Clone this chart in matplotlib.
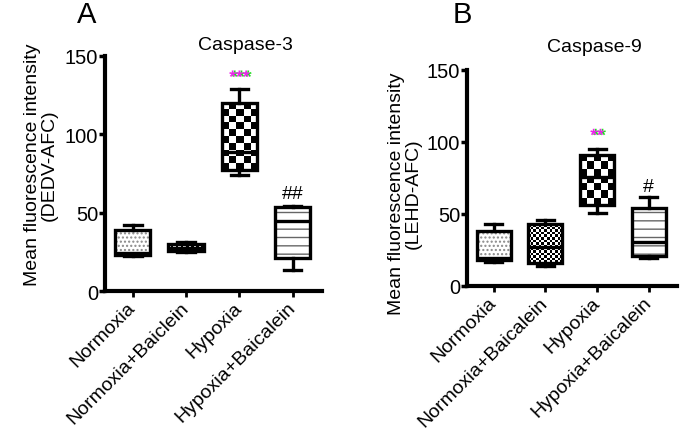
import numpy as np
import matplotlib
matplotlib.use("Agg")
import matplotlib.pyplot as plt
import matplotlib.patches as mpatches
import matplotlib.patheffects as pe

plt.rcParams['font.family'] = ['Liberation Sans', 'DejaVu Sans']
plt.rcParams['hatch.linewidth'] = 1.0

# data
labels_a = ["Normoxia", "Normoxia+Baiclein", "Hypoxia", "Hypoxia+Baicalein"]
labels_b = ["Normoxia", "Normoxia+Baicalein", "Hypoxia", "Hypoxia+Baicalein"]

casp3_whislo = [22.5, 25, 74, 13.5]
casp3_q1 = [23, 25.5, 77, 21]
casp3_med = [24, 27.5, 89, 45]
casp3_q3 = [39, 30, 120, 53.5]
casp3_whishi = [42, 31, 129, 54.5]

casp9_whislo = [17, 14, 51, 19.5]
casp9_q1 = [18, 16, 56, 21]
casp9_med = [19.5, 27, 76, 30.5]
casp9_q3 = [38, 43, 91, 54]
casp9_whishi = [43, 46, 95, 62]

# significance marks: (group, y value, text, kind)
marks_a = [(3, 136, "***", "star"), (4, 62, "##", "hash")]
marks_b = [(3, 104, "**", "star"), (4, 69, "#", "hash")]


def checker(ax, patch, cell_px):
    ext = patch.get_path().get_extents()
    (px0, py0), (px1, py1) = ax.transData.transform([[ext.x0, ext.y0], [ext.x1, ext.y1]])
    nx = max(1, int(round((px1 - px0) / cell_px)))
    ny = max(1, int(round((py1 - py0) / cell_px)))
    arr = np.add.outer(np.arange(ny), np.arange(nx)) % 2
    im = ax.imshow(arr, cmap='gray', extent=(ext.x0, ext.x1, ext.y0, ext.y1),
                   origin='lower', aspect='auto', interpolation='nearest', zorder=1.5)
    im.set_clip_path(patch)


def hatch_fill(ax, patch, hatch, color):
    p = mpatches.PathPatch(patch.get_path(), facecolor='white', edgecolor=color,
                           linewidth=0, hatch=hatch, zorder=1.5)
    ax.add_patch(p)


def panel(ax, labels, lo, q1, med, q3, hi, marks):
    stats = []
    for i in range(4):
        stats.append(dict(whislo=lo[i], q1=q1[i], med=med[i], q3=q3[i], whishi=hi[i]))
    lw = 2.4
    ax.set_xlim(0.48, 4.55)
    ax.set_ylim(0, 150)
    res = ax.bxp(stats, positions=[1, 2, 3, 4], widths=0.66, patch_artist=True,
                 showfliers=False,
                 boxprops=dict(facecolor='none', edgecolor='black', linewidth=lw),
                 medianprops=dict(color='black', linewidth=lw),
                 whiskerprops=dict(color='black', linewidth=lw),
                 capprops=dict(color='black', linewidth=lw))
    boxes = res['boxes']
    for b in boxes:
        b.set_zorder(3)
    for m in res['medians']:
        m.set_zorder(3.5)
    hatch_fill(ax, boxes[0], '....', '#888888')
    hatch_fill(ax, boxes[3], '--', '#666666')
    checker(ax, boxes[1], 2.6)
    checker(ax, boxes[2], 6.8)
    ax.set_xlim(0.48, 4.55)
    ax.set_ylim(0, 150)

    ax.spines['top'].set_visible(False)
    ax.spines['right'].set_visible(False)
    ax.spines['left'].set_linewidth(3)
    ax.spines['bottom'].set_linewidth(3)
    ax.set_yticks([0, 50, 100, 150])
    ax.tick_params(axis='y', length=4, width=2.5, labelsize=14.5, pad=1)
    ax.tick_params(axis='x', length=4, width=2, labelsize=14, pad=6)
    ax.set_xticks([1, 2, 3, 4])
    ax.set_xticklabels(labels, rotation=45, ha='right', va='center', rotation_mode='anchor')

    for pos, y, txt, kind in marks:
        if kind == "star":
            ax.text(pos, y, txt, color='#ee22ee', fontsize=12.5, ha='center', va='center',
                    fontweight='bold', zorder=4,
                    path_effects=[pe.withSimplePatchShadow(offset=(1.5, 0), shadow_rgbFace='#22dd22', alpha=1.0)])
        else:
            ax.text(pos, y, txt, color='black', fontsize=14, ha='center', va='center', zorder=4)


fig = plt.figure(figsize=(6.88, 4.31), dpi=100)
W, H = 688.0, 431.0

ax_a = fig.add_axes([105 / W, 1 - 292 / H, 217 / W, 235 / H])
ax_b = fig.add_axes([467 / W, 1 - 287 / H, 210 / W, 216 / H])

panel(ax_a, labels_a, casp3_whislo, casp3_q1, casp3_med, casp3_q3, casp3_whishi, marks_a)
panel(ax_b, labels_b, casp9_whislo, casp9_q1, casp9_med, casp9_q3, casp9_whishi, marks_b)

fig.text(87 / W, 1 - 15 / H, "A", fontsize=21, ha='center', va='center')
fig.text(462 / W, 1 - 15 / H, "B", fontsize=21, ha='center', va='center')
fig.text(245 / W, 1 - 45 / H, "Caspase-3", fontsize=14, ha='center', va='center')
fig.text(594 / W, 1 - 48 / H, "Caspase-9", fontsize=14, ha='center', va='center')

fig.text(41 / W, 1 - 165 / H, "Mean fluorescence intensity\n(DEDV-AFC)", fontsize=14,
         rotation=90, ha='center', va='center', multialignment='center', linespacing=1.0)
fig.text(405 / W, 1 - 194 / H, "Mean fluorescence intensity\n(LEHD-AFC)", fontsize=14,
         rotation=90, ha='center', va='center', multialignment='center', linespacing=1.0)

fig.savefig("out.png", dpi=100)
